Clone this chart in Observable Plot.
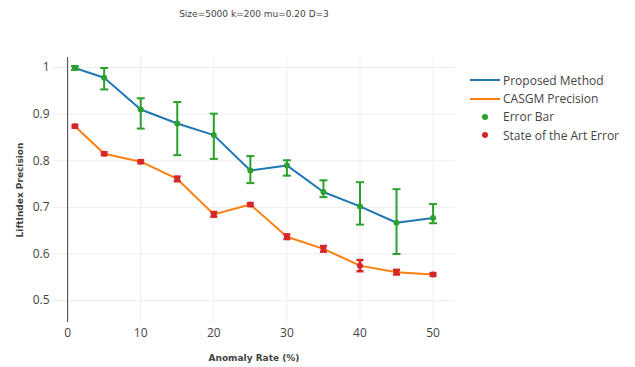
<!DOCTYPE html>
<html><head><meta charset="utf-8">
<script src="https://cdn.jsdelivr.net/npm/d3@7"></script>
<script src="https://cdn.jsdelivr.net/npm/@observablehq/plot@0.6"></script>
<style>
body{margin:0;background:#fff;}
#wrap{position:relative;width:635px;height:367px;overflow:hidden;}
#wrap svg.plot{position:absolute;left:0;top:0;}
.txt{position:absolute;color:#444;white-space:nowrap;}
#title{left:0;width:508px;top:9px;text-align:center;font:9px "DejaVu Sans",sans-serif;}
#xlab{left:0;width:508px;top:353px;text-align:center;font:bold 9px "DejaVu Sans",sans-serif;}
#ylab{left:20px;top:190px;transform:translate(-50%,-50%) rotate(-90deg);font:bold 9px "DejaVu Sans",sans-serif;}
#legend{position:absolute;left:468px;top:71px;font:12px "Open Sans",sans-serif;color:#444;}
#legend .row{display:flex;align-items:center;height:18.4px;}
#legend svg{width:34px;height:18px;margin-right:1px;}
</style>
</head><body>
<div id="wrap">
  <div id="title" class="txt"></div>
  <div id="xlab" class="txt"></div>
  <div id="ylab" class="txt"></div>
  <div id="legend"></div>
</div>
<script>
const titleText = "Size=5000 k=200 mu=0.20 D=3";
const xTitle = "Anomaly Rate (%)";
const yTitle = "LiftIndex Precision";
const seriesNames = ["Proposed Method", "CASGM Precision", "Error Bar", "State of the Art Error"];
const seriesColors = ["#1f77b4", "#ff7f0e", "#2ca02c", "#d62728"];

const rates    = [1, 5, 10, 15, 20, 25, 30, 35, 40, 45, 50];
const proposed = [0.999, 0.978, 0.910, 0.880, 0.855, 0.779, 0.790, 0.733, 0.702, 0.667, 0.677];
const propHi   = [1.003, 0.999, 0.934, 0.926, 0.901, 0.810, 0.801, 0.758, 0.754, 0.739, 0.707];
const propLo   = [0.995, 0.953, 0.869, 0.812, 0.804, 0.752, 0.768, 0.722, 0.663, 0.600, 0.666];
const casgm    = [0.874, 0.815, 0.798, 0.761, 0.685, 0.706, 0.637, 0.611, 0.575, 0.561, 0.556];
const casgmHi  = [0.877, 0.818, 0.801, 0.766, 0.690, 0.709, 0.642, 0.617, 0.587, 0.566, 0.559];
const casgmLo  = [0.871, 0.812, 0.795, 0.756, 0.680, 0.703, 0.632, 0.605, 0.563, 0.556, 0.553];
const xTicks = [0, 10, 20, 30, 40, 50];
const yTicks = [0.5, 0.6, 0.7, 0.8, 0.9, 1];

const propRows = rates.map((x, i) => ({x, y: proposed[i], hi: propHi[i], lo: propLo[i]}));
const casRows  = rates.map((x, i) => ({x, y: casgm[i], hi: casgmHi[i], lo: casgmLo[i]}));

const capSymbol = w => ({draw(ctx){ ctx.moveTo(-w, 0); ctx.lineTo(w, 0); }});

function errMarks(rows, color, sw, capW, r){
  return [
    Plot.ruleX(rows, {x: "x", y1: "lo", y2: "hi", stroke: color, strokeWidth: sw}),
    Plot.dot(rows, {x: "x", y: "hi", symbol: capSymbol(capW), stroke: color, strokeWidth: sw, fill: "none"}),
    Plot.dot(rows, {x: "x", y: "lo", symbol: capSymbol(capW), stroke: color, strokeWidth: sw, fill: "none"}),
    Plot.dot(rows, {x: "x", y: "y", r, fill: color, stroke: "none"})
  ];
}

const chart = Plot.plot({
  width: 635, height: 367,
  marginLeft: 52, marginRight: 180, marginTop: 57, marginBottom: 45,
  style: {fontFamily: "'Open Sans', sans-serif", fontSize: "12px", color: "#444", background: "transparent"},
  x: {domain: [-2.07, 53.07], ticks: xTicks, tickSize: 0, tickPadding: 6, label: null},
  y: {domain: [0.453, 1.0215], ticks: yTicks, tickSize: 0, tickPadding: 3, label: null, tickFormat: d => String(d)},
  marks: [
    Plot.gridX(xTicks, {stroke: "#eee", strokeOpacity: 1, strokeWidth: 1}),
    Plot.gridY(yTicks, {stroke: "#eee", strokeOpacity: 1, strokeWidth: 1}),
    Plot.ruleX([0], {stroke: "#444", strokeWidth: 1}),
    Plot.line(propRows, {x: "x", y: "y", stroke: seriesColors[0], strokeWidth: 2}),
    Plot.line(casRows, {x: "x", y: "y", stroke: seriesColors[1], strokeWidth: 2}),
    ...errMarks(propRows, seriesColors[2], 2, 4, 3),
    ...errMarks(casRows, seriesColors[3], 2.5, 3.5, 3),
    Plot.axisX({ticks: xTicks, tickSize: 0, tickPadding: 6, fill: "#444"}),
    Plot.axisY({ticks: yTicks, tickSize: 0, tickPadding: 3, fill: "#444", tickFormat: d => String(d)})
  ]
});
chart.classList.add("plot");
document.getElementById("wrap").prepend(chart);

document.getElementById("title").textContent = titleText;
document.getElementById("xlab").textContent = xTitle;
document.getElementById("ylab").textContent = yTitle;

const legend = document.getElementById("legend");
seriesNames.forEach((name, i) => {
  const row = document.createElement("div");
  row.className = "row";
  const sw = i < 2
    ? `<svg viewBox="0 0 34 18"><line x1="2" x2="32" y1="9" y2="9" stroke="${seriesColors[i]}" stroke-width="2"/></svg>`
    : `<svg viewBox="0 0 34 18"><circle cx="17" cy="9" r="3" fill="${seriesColors[i]}"/></svg>`;
  row.innerHTML = sw + `<span>${name}</span>`;
  legend.appendChild(row);
});
</script>
</body></html>
